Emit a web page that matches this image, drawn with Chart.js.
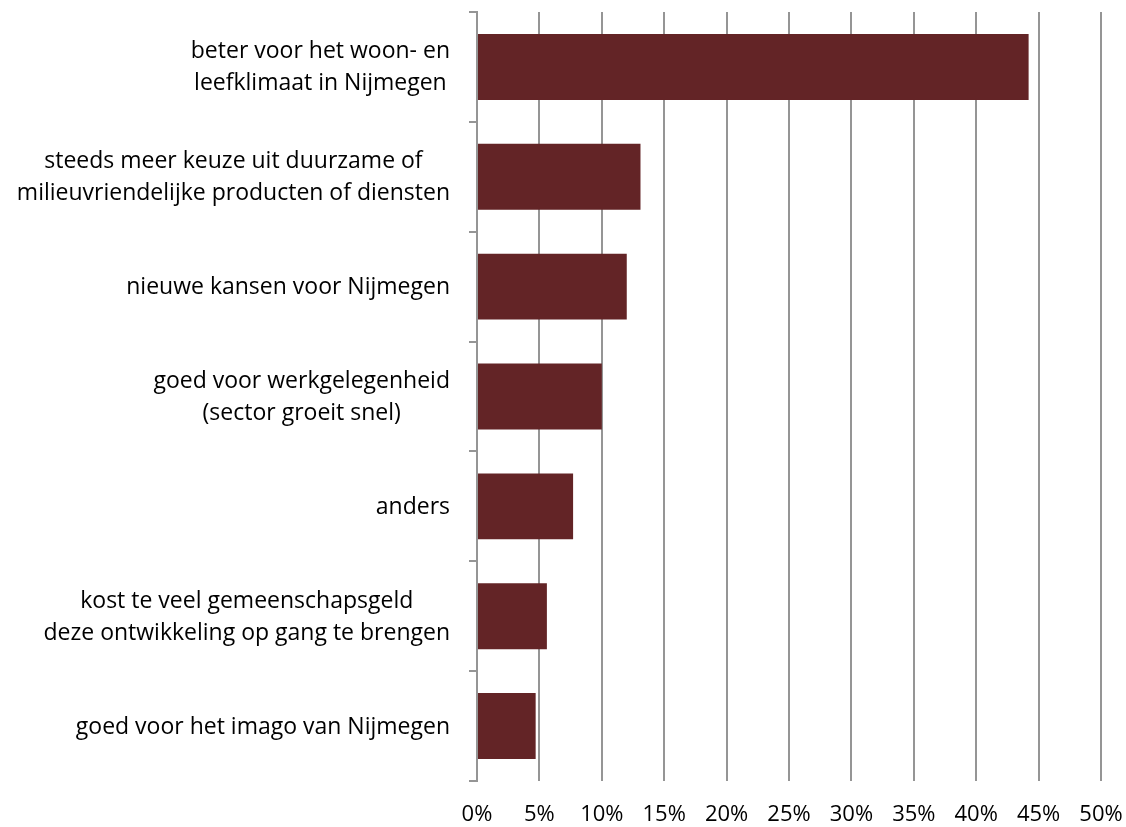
<!DOCTYPE html>
<html>
<head>
<meta charset="utf-8">
<script src="https://cdn.jsdelivr.net/npm/chart.js@4.4.1/dist/chart.umd.min.js"></script>
<style>
  html, body { margin: 0; padding: 0; background: #ffffff; }
  #wrap { width: 1126px; height: 827px; position: relative; }
</style>
</head>
<body>
<div id="wrap"><canvas id="chart"></canvas></div>
<script>
const categories = [
  ["beter voor het woon- en", "leefklimaat in Nijmegen"],
  ["steeds meer keuze uit duurzame of", "milieuvriendelijke producten of diensten"],
  ["nieuwe kansen voor Nijmegen"],
  ["goed voor werkgelegenheid", "(sector groeit snel)"],
  ["anders"],
  ["kost te veel gemeenschapsgeld", "deze ontwikkeling op gang te brengen"],
  ["goed voor het imago van Nijmegen"]
];
const shares = [44.2, 13.1, 12.0, 10.0, 7.7, 5.6, 4.7];
const tickValues = [0, 5, 10, 15, 20, 25, 30, 35, 40, 45, 50];

const labelFont = "23px 'Open Sans'";
const gridGrey = "#959595";

// draw the category labels as centred blocks, right edge near the axis
const blockLabels = {
  id: "blockLabels",
  afterDraw(chart) {
    const { ctx } = chart;
    const yScale = chart.scales.y;
    const rightEdge = yScale.right - 27;
    const lineHeight = 32;
    ctx.save();
    ctx.font = labelFont;
    ctx.fillStyle = "#000000";
    ctx.textAlign = "center";
    ctx.textBaseline = "middle";
    categories.forEach((lines, index) => {
      const centerY = yScale.getPixelForValue(index) + 1;
      const maxWidth = Math.max(...lines.map((line) => ctx.measureText(line).width));
      const centerX = rightEdge - maxWidth / 2;
      const startY = centerY - ((lines.length - 1) * lineHeight) / 2;
      lines.forEach((line, lineIndex) => {
        ctx.fillText(line, centerX, startY + lineIndex * lineHeight);
      });
    });
    ctx.restore();
  }
};

new Chart(document.getElementById("chart"), {
  type: "bar",
  data: {
    labels: categories,
    datasets: [{
      data: shares,
      backgroundColor: "#632426",
      borderWidth: 0,
      barPercentage: 0.6,
      categoryPercentage: 1
    }]
  },
  options: {
    indexAxis: "y",
    responsive: true,
    maintainAspectRatio: false,
    animation: false,
    layout: { padding: { top: 12, right: 25, bottom: 0, left: 0 } },
    plugins: {
      legend: { display: false },
      tooltip: { enabled: false }
    },
    scales: {
      x: {
        min: 0,
        max: 50,
        afterBuildTicks(scale) {
          scale.ticks = tickValues.map((value) => ({ value }));
        },
        afterFit(scale) {
          scale.height = 46;
          scale.paddingLeft = 0;
          scale.paddingRight = 0;
        },
        border: { display: false },
        grid: {
          color: gridGrey,
          lineWidth: 2,
          drawTicks: false
        },
        ticks: {
          padding: 21,
          color: "#000000",
          font: { family: "'Open Sans'", size: 22 },
          maxRotation: 0,
          callback(value) { return value + "%"; }
        }
      },
      y: {
        afterFit(scale) { scale.width = 477; },
        border: { display: true, color: gridGrey, width: 2 },
        grid: {
          drawOnChartArea: false,
          drawTicks: true,
          tickLength: 8,
          color: gridGrey,
          lineWidth: 2
        },
        ticks: { display: false }
      }
    }
  },
  plugins: [blockLabels]
});
</script>
</body>
</html>
